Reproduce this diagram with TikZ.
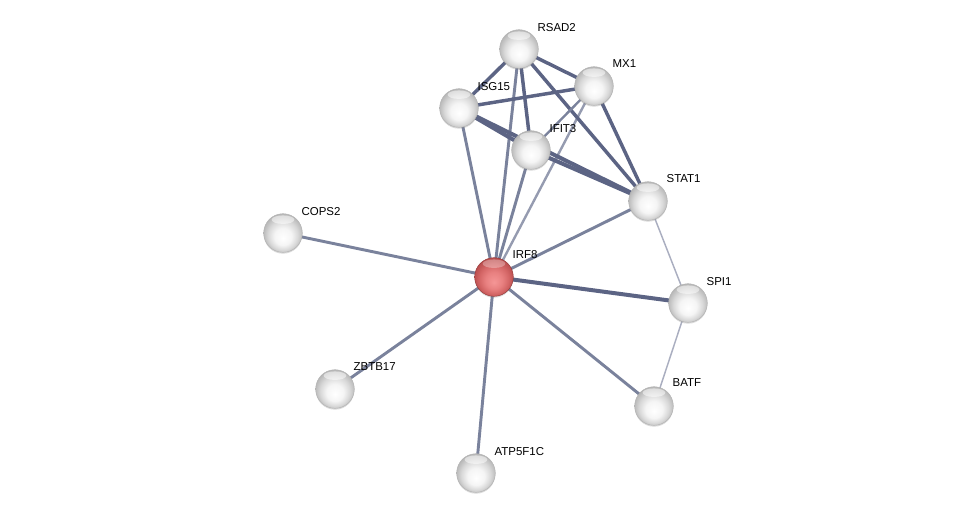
\documentclass[tikz,border=0pt]{standalone}
\usepackage{fontspec}
\setmainfont{Liberation Sans}
\usetikzlibrary{backgrounds,shadows}

\definecolor{edgecol}{RGB}{122,130,156}
\definecolor{edgedark}{RGB}{92,100,132}
\definecolor{edgelight}{RGB}{170,174,192}
\definecolor{red0}{RGB}{245,150,150}
\definecolor{red1}{RGB}{232,128,128}
\definecolor{red2}{RGB}{212,102,102}
\definecolor{red3}{RGB}{182,74,74}
\definecolor{red4}{RGB}{145,52,52}

\pgfdeclareradialshading{greyball}{\pgfpoint{0bp}{-7bp}}{color(0bp)=(white); color(11bp)=(white!96!black); color(19bp)=(white!85!black); color(27bp)=(white!70!black); color(33bp)=(white!55!black)}
\pgfdeclareradialshading{redball}{\pgfpoint{0bp}{-7bp}}{color(0bp)=(red0); color(11bp)=(red1); color(19bp)=(red2); color(27bp)=(red3); color(33bp)=(red4)}

\tikzset{
  protein/.style={circle,minimum size=29pt,inner sep=0pt,shading=greyball,
    draw=gray!60,line width=0.3pt,drop shadow={opacity=0.3,shadow xshift=0pt,shadow yshift=-1pt},
    path picture={\fill[white,opacity=0.5] ([yshift=-4.5pt]path picture bounding box.north) ellipse (8.5pt and 3.2pt);}},
  query/.style={protein,shading=redball,draw=red4,
    path picture={\fill[white,opacity=0.3] ([yshift=-4.5pt]path picture bounding box.north) ellipse (8.5pt and 3.2pt);}},
  gname/.style={anchor=west,font=\fontsize{8.6}{10}\selectfont,inner sep=1pt},
  link/.style={edgecol,line width=2.2pt},
  strong/.style={edgedark,line width=2.6pt},
  weak/.style={edgelight,line width=1.1pt}
}

\begin{document}
\begin{tikzpicture}[x=0.75pt,y=-0.75pt,line cap=round]
		\useasboundingbox (0,0) rectangle (976,519);
		
		% proteins
		\node[protein] (rsad2) at (519,49) {};
		\node[protein] (mx1) at (594,86) {};
		\node[protein] (isg15) at (459,108) {};
		\node[protein] (ifit3) at (531,150) {};
		\node[protein] (stat1) at (648,201) {};
		\node[protein] (cops2) at (283,233) {};
		\node[query] (irf8) at (494,277) {};
		\node[protein] (spi1) at (688,303) {};
		\node[protein] (zbtb17) at (335,389) {};
		\node[protein] (batf) at (654,406) {};
		\node[protein] (atp5f1c) at (476,473) {};
		
		% gene names
		\node[gname] (rsad2l) at ([shift={(17,-21)}]rsad2.center) {RSAD2};
		\node[gname] (mx1l) at ([shift={(17,-22)}]mx1.center) {MX1};
		\node[gname] (isg15l) at ([shift={(17,-21)}]isg15.center) {ISG15};
		\node[gname] (ifit3l) at ([shift={(17,-21)}]ifit3.center) {IFIT3};
		\node[gname] (stat1l) at ([shift={(17,-22)}]stat1.center) {STAT1};
		\node[gname] (cops2l) at ([shift={(17,-21)}]cops2.center) {COPS2};
		\node[gname] (irf8l) at ([shift={(17,-22)}]irf8.center) {IRF8};
		\node[gname] (spi1l) at ([shift={(17,-21)}]spi1.center) {SPI1};
		\node[gname] (zbtb17l) at ([shift={(17,-22)}]zbtb17.center) {ZBTB17};
		\node[gname] (batfl) at ([shift={(17,-23)}]batf.center) {BATF};
		\node[gname] (atp5f1cl) at ([shift={(17,-21)}]atp5f1c.center) {ATP5F1C};
		
		\begin{pgfonlayer}{background}
			\foreach \p in {cops2,zbtb17,atp5f1c,batf,stat1,ifit3,isg15,rsad2}
				\draw[link] (irf8.center) -- (\p.center);
			\draw[link,edgecol!80!white,line width=1.8pt] (irf8.center) -- (mx1.center);
			\draw[strong,line width=3pt] (irf8.center) -- (spi1.center);
			\draw[weak] (stat1.center) -- (spi1.center) -- (batf.center);
			% interferon cluster
			\draw[strong] (rsad2.center) -- (isg15.center);
			\draw[strong] (rsad2.center) -- (mx1.center);
			\draw[strong] (rsad2.center) -- (ifit3.center);
			\draw[strong] (rsad2.center) -- (stat1.center);
			\draw[strong] (mx1.center) -- (isg15.center);
			\draw[link,line width=1.8pt] (mx1.center) -- (ifit3.center);
			\draw[strong] (mx1.center) -- (stat1.center);
			\draw[strong,line width=3pt] (isg15.center) -- (ifit3.center);
			\draw[strong,line width=3pt] (isg15.center) -- (stat1.center);
			\draw[strong,line width=3pt] (ifit3.center) -- (stat1.center);
		\end{pgfonlayer}
	\end{tikzpicture}
\end{document}
